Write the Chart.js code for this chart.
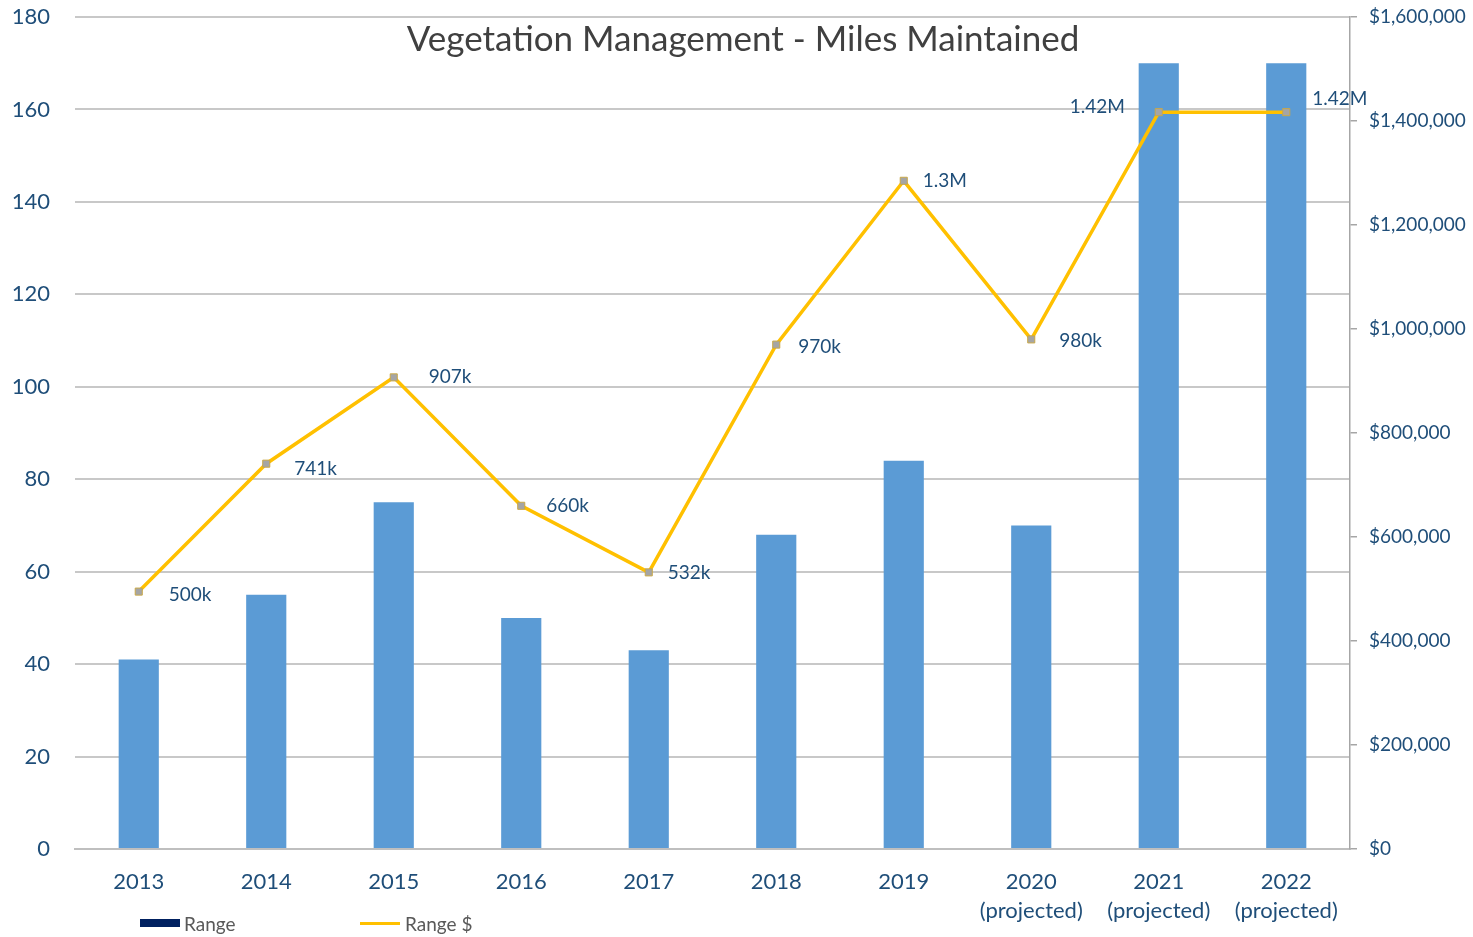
<!DOCTYPE html>
<html lang="en">
<head>
  <meta charset="UTF-8">
  <title>Vegetation Management</title>
  <style>
    body{ margin:0; background:#fff; }
    .chartBox{ position:relative; width:1473px; height:937px; }
    .title{ position:absolute; left:0; width:1486px; top:16px; text-align:center;
      font:35px Lato, sans-serif; color:#404040; pointer-events:none; }
    .legend{ position:absolute; top:909px; font:19px Lato, sans-serif; color:#595959; }
    .legend span{ display:inline-block; vertical-align:middle; }
  </style>
</head>
<body>
  <div class="chartBox">
    <canvas id="myChart"></canvas>
    <div class="title">Vegetation Management - Miles Maintained</div>
    <div class="legend" style="left:140px"><span style="width:40px;height:8px;background:#002060"></span><span style="margin-left:4px">Range</span></div>
    <div class="legend" style="left:360px"><span style="width:40px;height:3px;background:#FFC000"></span><span style="margin-left:5px">Range $</span></div>
  </div>

<script src="https://cdn.jsdelivr.net/npm/chart.js"></script>
<script>
  // data
  const years = [['2013'], ['2014'], ['2015'], ['2016'], ['2017'], ['2018'], ['2019'],
    ['2020', '(projected)'], ['2021', '(projected)'], ['2022', '(projected)']];
  const miles = [41, 55, 75, 50, 43, 68, 84, 70, 170, 170];
  const cost = [495000, 741000, 907000, 660000, 532000, 970000, 1285000, 980000, 1417000, 1417000];
  const costLabels = ['500k', '741k', '907k', '660k', '532k', '970k', '1.3M', '980k', '1.42M', '1.42M'];

  const blue = '#1F4E79';

  // labels next to the line points (dx, dy from the point)
  const labelShift = [[30, 3], [28, 5], [35, 0], [25, 0], [19, 1], [22, 2], [19, 0], [28, 1], [-89, -5], [26, -13]];
  const pointLabels = {
    id: 'pointLabels',
    afterDatasetsDraw(chart) {
      const ctx = chart.ctx;
      const meta = chart.getDatasetMeta(1);
      ctx.save();
      ctx.font = '19px Lato, sans-serif';
      ctx.fillStyle = blue;
      ctx.textBaseline = 'middle';
      ctx.textAlign = 'left';
      meta.data.forEach((pt, i) => {
        ctx.fillText(costLabels[i], pt.x + labelShift[i][0], pt.y + labelShift[i][1]);
      });
      ctx.restore();
    }
  };

  const ctx = document.getElementById('myChart');

  new Chart(ctx, {
    data: {
      labels: years,
      datasets: [
        {
          type: 'bar',
          label: 'Range',
          data: miles,
          backgroundColor: '#5B9BD5',
          categoryPercentage: 1,
          barPercentage: 0.315,
          yAxisID: 'y',
          order: 2
        },
        {
          type: 'line',
          label: 'Range $',
          data: cost,
          borderColor: '#FFC000',
          borderWidth: 3.5,
          pointStyle: 'rect',
          pointRadius: 5,
          pointBackgroundColor: '#A5A5A5',
          pointBorderColor: '#C9A848',
          pointBorderWidth: 1,
          tension: 0,
          yAxisID: 'y1',
          order: 1
        }
      ]
    },
    options: {
      responsive: true,
      maintainAspectRatio: false,
      animation: false,
      layout: { padding: { top: 17, right: 0, left: 0, bottom: 0 } },
      plugins: {
        legend: { display: false },
        tooltip: { enabled: false }
      },
      scales: {
        x: {
          grid: { display: false, drawTicks: false },
          border: { color: '#BFBFBF', width: 2 },
          ticks: { color: blue, font: { family: 'Lato', size: 22, lineHeight: 1.3 }, padding: 19, maxRotation: 0, autoSkip: false },
          afterFit(s) { s.height = 88; }
        },
        y: {
          position: 'left',
          min: 0, max: 180,
          ticks: { stepSize: 20, color: blue, font: { family: 'Lato', size: 22 }, padding: 25 },
          grid: { color: '#C8C8C8', lineWidth: 2, drawTicks: false },
          border: { display: false },
          afterFit(s) { s.width = 75; s.paddingTop = 0; s.paddingBottom = 0; }
        },
        y1: {
          position: 'right',
          min: 0, max: 1600000,
          ticks: {
            stepSize: 200000, color: blue, font: { family: 'Lato', size: 19 }, padding: 12,
            callback: v => '$' + v.toLocaleString('en-US')
          },
          grid: { drawOnChartArea: false, color: '#A6A6A6', tickLength: 7, lineWidth: 1.5 },
          border: { color: '#A6A6A6', width: 1.5 },
          afterFit(s) { s.width = 123; s.paddingTop = 0; s.paddingBottom = 0; }
        }
      }
    },
    plugins: [pointLabels]
  });
</script>
</body>
</html>
